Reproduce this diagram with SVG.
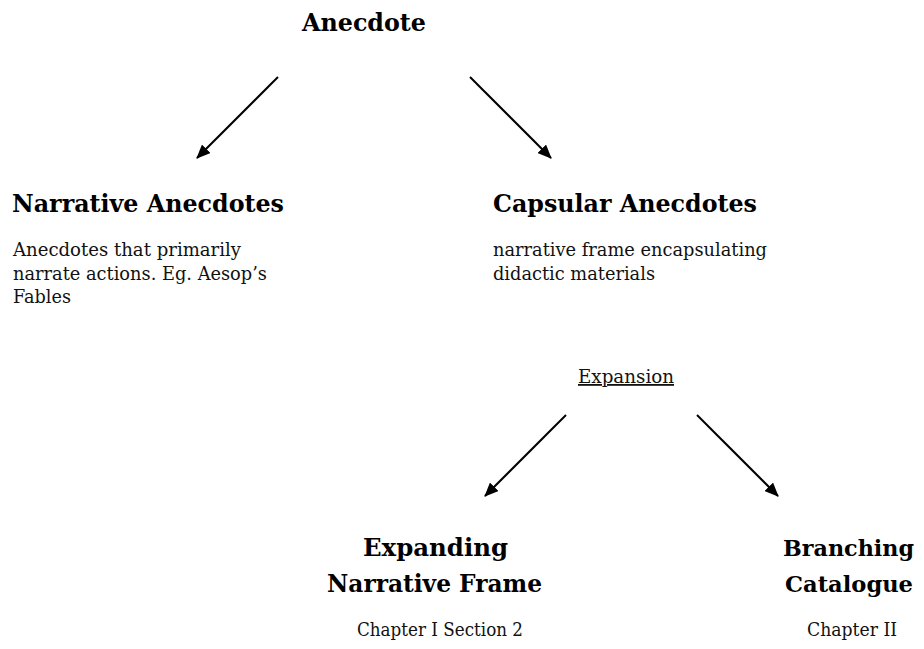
<svg xmlns="http://www.w3.org/2000/svg" width="924" height="649" viewBox="0 0 924 649">
<style>
.h{font-family:"DejaVu Serif","Liberation Serif",serif;font-weight:bold;font-size:25px;fill:#000}
.hs{font-size:22px}
.b{font-family:"DejaVu Serif","Liberation Serif",serif;font-size:18px;fill:#111}
.c{stroke:#000;stroke-width:2;fill:none;marker-end:url(#ah)}
</style>
<defs>
<marker id="ah" markerWidth="14" markerHeight="12" refX="13" refY="6" orient="auto" markerUnits="userSpaceOnUse" viewBox="0 0 14 12">
<path d="M0,0 L14,6 L0,12 z" fill="#000"/>
</marker>
</defs>
<rect width="924" height="649" fill="#fff"/>
<g id="connectors">
<line class="c" x1="278" y1="77" x2="197" y2="158"/>
<line class="c" x1="470" y1="77" x2="551" y2="158"/>
<line class="c" x1="566" y1="415" x2="485" y2="496"/>
<line class="c" x1="697" y1="415" x2="778" y2="496"/>
</g>
<g id="anecdote"><text class="h" x="302" y="31" textLength="124" lengthAdjust="spacingAndGlyphs">Anecdote</text></g>
<g id="narrative">
<text class="h" x="12" y="212" textLength="272" lengthAdjust="spacingAndGlyphs">Narrative Anecdotes</text>
<text class="b" x="13" y="256" textLength="228" lengthAdjust="spacingAndGlyphs">Anecdotes that primarily</text>
<text class="b" x="13" y="280" textLength="254" lengthAdjust="spacingAndGlyphs">narrate actions. Eg. Aesop’s</text>
<text class="b" x="13" y="303" textLength="58" lengthAdjust="spacingAndGlyphs">Fables</text>
</g>
<g id="capsular">
<text class="h" x="493" y="212" textLength="264" lengthAdjust="spacingAndGlyphs">Capsular Anecdotes</text>
<text class="b" x="493" y="256" textLength="274" lengthAdjust="spacingAndGlyphs">narrative frame encapsulating</text>
<text class="b" x="493" y="280" textLength="162" lengthAdjust="spacingAndGlyphs">didactic materials</text>
</g>
<g id="expansion"><text class="b" x="578" y="383" textLength="96" lengthAdjust="spacingAndGlyphs" text-decoration="underline">Expansion</text></g>
<g id="expanding">
<text class="h" x="363" y="556" textLength="145" lengthAdjust="spacingAndGlyphs">Expanding</text>
<text class="h" x="327" y="592" textLength="215" lengthAdjust="spacingAndGlyphs">Narrative Frame</text>
<text class="b" x="357" y="636" textLength="166" lengthAdjust="spacingAndGlyphs">Chapter I Section 2</text>
</g>
<g id="branching">
<text class="h hs" x="783" y="556" textLength="131" lengthAdjust="spacingAndGlyphs">Branching</text>
<text class="h hs" x="785" y="592" textLength="128" lengthAdjust="spacingAndGlyphs">Catalogue</text>
<text class="b" x="807" y="636" textLength="90" lengthAdjust="spacingAndGlyphs">Chapter II</text>
</g>
</svg>
